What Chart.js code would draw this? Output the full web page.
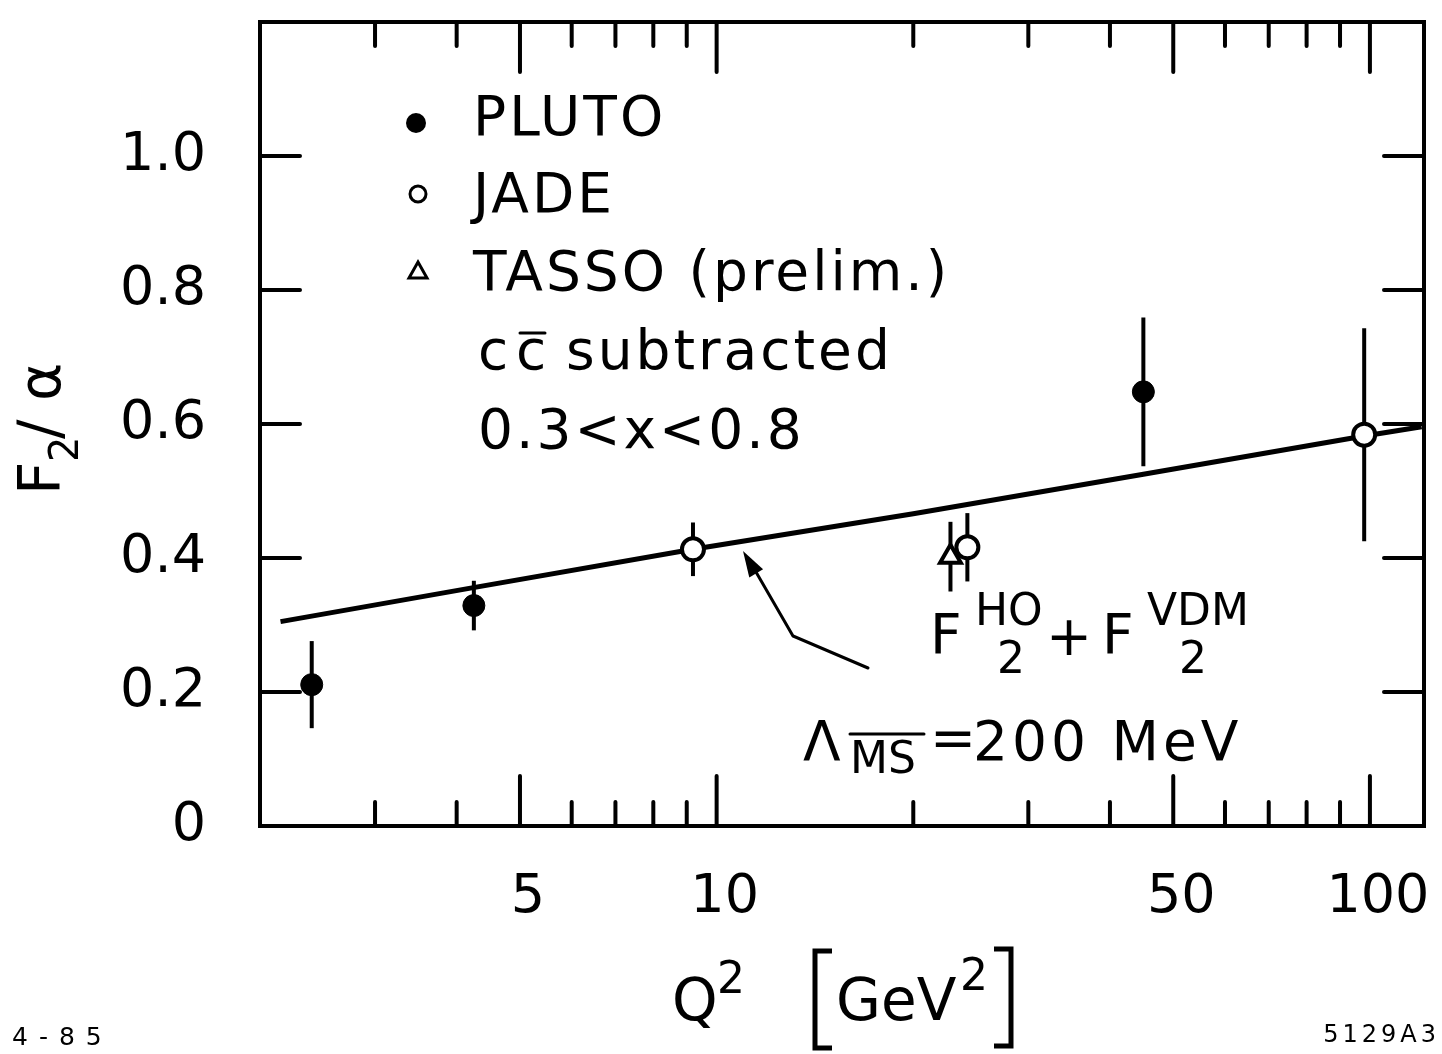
<!DOCTYPE html>
<html>
<head>
<meta charset="utf-8">
<script src="https://cdn.jsdelivr.net/npm/chart.js@4.4.1/dist/chart.umd.min.js"></script>
<style>
  html, body { margin: 0; padding: 0; background: #fff; }
  #wrap { width: 1442px; height: 1054px; }
</style>
</head>
<body>
<div id="wrap"><canvas id="f2Chart" width="1442" height="1054"></canvas></div>
<script>
// photon structure function F2/alpha vs Q^2, 0.3 < x < 0.8
var plutoQ2  = [2.4, 4.25, 45];
var plutoF2  = [0.211, 0.329, 0.648];
var plutoErr = [0.065, 0.037, 0.111];

var jadeQ2  = [9.2, 24.2, 98];
var jadeF2  = [0.413, 0.416, 0.584];
var jadeErr = [0.04, 0.051, 0.159];

var tassoQ2  = [22.8];
var tassoF2  = [0.402];
var tassoErr = [0.052];

// F2(HO) + F2(VDM), Lambda_MSbar = 200 MeV
var curveQ2 = [2.15, 4.2, 9.2, 20, 45, 98, 120];
var curveF2 = [0.305, 0.355, 0.413, 0.466, 0.525, 0.582, 0.596];

var xTickValues = [3, 4, 5, 6, 7, 8, 9, 10, 20, 30, 40, 50, 60, 70, 80, 90, 100];
var xLabelValues = [5, 10, 50, 100];
var yTickValues = [0, 0.2, 0.4, 0.6, 0.8, 1.0, 1.2];

var FONT = '"DejaVu Sans", sans-serif';

function pts(xs, ys) {
  return xs.map(function(x, i) { return { x: x, y: ys[i] }; });
}

// error bars (drawn under the markers)
var errorBars = {
  id: 'errorBars',
  beforeDatasetsDraw: function(chart) {
    var ctx = chart.ctx, xs = chart.scales.x, ys = chart.scales.y;
    ctx.save();
    ctx.strokeStyle = '#000';
    ctx.lineWidth = 4;
    chart.data.datasets.forEach(function(ds) {
      if (!ds.errors) return;
      ds.data.forEach(function(p, i) {
        var px = xs.getPixelForValue(p.x);
        ctx.beginPath();
        ctx.moveTo(px, ys.getPixelForValue(p.y - ds.errors[i]));
        ctx.lineTo(px, ys.getPixelForValue(p.y + ds.errors[i]));
        ctx.stroke();
      });
    });
    ctx.restore();
  }
};

// frame, inward ticks and all the lettering
var decorations = {
  id: 'decorations',
  afterDraw: function(chart) {
    var ctx = chart.ctx, a = chart.chartArea;
    var xs = chart.scales.x, ys = chart.scales.y;
    ctx.save();
    ctx.strokeStyle = '#000';
    ctx.fillStyle = '#000';
    ctx.lineCap = 'round';

    // frame
    ctx.lineWidth = 4;
    ctx.strokeRect(a.left, a.top, a.right - a.left, a.bottom - a.top);

    // x ticks, top and bottom
    ctx.lineWidth = 4;
    xTickValues.forEach(function(v) {
      var px = xs.getPixelForValue(v);
      var len = xLabelValues.indexOf(v) >= 0 ? 50 : 24;
      ctx.beginPath();
      ctx.moveTo(px, a.bottom); ctx.lineTo(px, a.bottom - len);
      ctx.moveTo(px, a.top); ctx.lineTo(px, a.top + len);
      ctx.stroke();
    });
    // y ticks, left and right
    yTickValues.forEach(function(v) {
      if (v <= 0 || v >= 1.2) return;
      var py = ys.getPixelForValue(v);
      ctx.beginPath();
      ctx.moveTo(a.left, py); ctx.lineTo(a.left + 40, py);
      ctx.moveTo(a.right, py); ctx.lineTo(a.right - 40, py);
      ctx.stroke();
    });

    ctx.textBaseline = 'alphabetic';
    ctx.textAlign = 'left';

    // legend
    ctx.beginPath(); ctx.arc(416, 123, 10, 0, Math.PI * 2); ctx.fill();
    ctx.lineWidth = 3;
    ctx.beginPath(); ctx.arc(418, 194, 8, 0, Math.PI * 2); ctx.stroke();
    ctx.beginPath();
    ctx.moveTo(418, 262); ctx.lineTo(427, 278); ctx.lineTo(409, 278); ctx.closePath();
    ctx.stroke();

    ctx.font = '55px ' + FONT;
    ctx.letterSpacing = '3px';
    ctx.fillText('PLUTO', 473, 135);
    ctx.fillText('JADE', 473, 212);
    ctx.fillText('TASSO (prelim.)', 473, 290);
    ctx.fillText('c', 478, 369);
    ctx.fillText('c', 516, 369);
    ctx.fillText('subtracted', 566, 369);
    ctx.lineWidth = 3;
    ctx.beginPath(); ctx.moveTo(520, 333); ctx.lineTo(545, 333); ctx.stroke();
    ctx.fillText('0.3<x<0.8', 478, 448);

    // curve annotation
    ctx.letterSpacing = '0px';
    ctx.font = '55px ' + FONT;
    ctx.fillText('F', 930, 653);
    ctx.fillText('+', 1046, 655);
    ctx.fillText('F', 1102, 653);
    ctx.font = '44px ' + FONT;
    ctx.fillText('HO', 975, 625);
    ctx.fillText('2', 997, 673);
    ctx.fillText('VDM', 1147, 625);
    ctx.fillText('2', 1179, 673);

    ctx.font = '55px ' + FONT;
    ctx.fillText('\u039B', 803, 760);
    ctx.font = '44px ' + FONT;
    ctx.fillText('MS', 850, 773);
    ctx.lineWidth = 3;
    ctx.beginPath(); ctx.moveTo(850, 734); ctx.lineTo(924, 734); ctx.stroke();
    ctx.font = '55px ' + FONT;
    ctx.fillText('=', 930, 757);
    ctx.letterSpacing = '4px';
    ctx.fillText('200 MeV', 973, 760);
    ctx.letterSpacing = '0px';

    // arrow to the curve
    ctx.lineWidth = 3;
    ctx.beginPath();
    ctx.moveTo(868, 668); ctx.lineTo(793, 636); ctx.lineTo(756, 572);
    ctx.stroke();
    var tx = 743, ty = 551, dx = -0.507, dy = -0.862;
    ctx.beginPath();
    ctx.moveTo(tx, ty);
    ctx.lineTo(tx - dx * 26 - dy * 8, ty - dy * 26 + dx * 8);
    ctx.lineTo(tx - dx * 26 + dy * 8, ty - dy * 26 - dx * 8);
    ctx.closePath();
    ctx.fill();

    // y axis title F2/alpha
    ctx.save();
    ctx.translate(60, 495);
    ctx.rotate(-Math.PI / 2);
    ctx.font = '58px ' + FONT;
    ctx.fillText('F', 0, 0);
    ctx.font = '40px ' + FONT;
    ctx.fillText('2', 33, 18);
    ctx.font = '58px ' + FONT;
    ctx.fillText('/', 56, 0);
    ctx.fillText('\u03B1', 94, 0);
    ctx.restore();

    // x axis title Q^2 [GeV^2]
    ctx.font = '58px ' + FONT;
    ctx.fillText('Q', 672, 1020);
    ctx.fillText('GeV', 836, 1020);
    ctx.font = '44px ' + FONT;
    ctx.fillText('2', 717, 993);
    ctx.fillText('2', 960, 990);
    ctx.lineWidth = 5;
    ctx.lineCap = 'butt';
    ctx.beginPath();
    ctx.moveTo(832, 951); ctx.lineTo(815, 951); ctx.lineTo(815, 1048); ctx.lineTo(832, 1048);
    ctx.moveTo(994, 949); ctx.lineTo(1011, 949); ctx.lineTo(1011, 1046); ctx.lineTo(994, 1046);
    ctx.stroke();

    // plate numbers
    ctx.font = '25px ' + FONT;
    ctx.letterSpacing = '11px';
    ctx.fillText('4-85', 12, 1045);
    ctx.font = '24px ' + FONT;
    ctx.letterSpacing = '4px';
    ctx.textAlign = 'right';
    ctx.fillText('5129A3', 1440, 1042);
    ctx.restore();
  }
};

var ctx = document.getElementById('f2Chart').getContext('2d');

var f2Chart = new Chart(ctx, {
  type: 'scatter',
  data: {
    datasets: [
      {
        label: 'F2HO + F2VDM',
        type: 'line',
        data: pts(curveQ2, curveF2),
        borderColor: '#000',
        borderWidth: 5,
        pointRadius: 0,
        tension: 0,
        order: 3
      },
      {
        label: 'PLUTO',
        data: pts(plutoQ2, plutoF2),
        errors: plutoErr,
        pointStyle: 'circle',
        pointRadius: 11,
        backgroundColor: '#000',
        borderColor: '#000',
        borderWidth: 1,
        order: 1
      },
      {
        label: 'JADE',
        data: pts(jadeQ2, jadeF2),
        errors: jadeErr,
        pointStyle: 'circle',
        pointRadius: 11,
        backgroundColor: '#fff',
        borderColor: '#000',
        borderWidth: 4,
        order: 1
      },
      {
        label: 'TASSO (prelim.)',
        data: pts(tassoQ2, tassoF2),
        errors: tassoErr,
        pointStyle: 'triangle',
        pointRadius: 12,
        backgroundColor: '#fff',
        borderColor: '#000',
        borderWidth: 4,
        order: 2
      }
    ]
  },
  options: {
    responsive: false,
    animation: false,
    layout: { padding: { top: 22, right: 18, left: 0, bottom: 0 } },
    plugins: {
      legend: { display: false },
      tooltip: { enabled: false }
    },
    scales: {
      x: {
        type: 'logarithmic',
        min: 2,
        max: 121,
        grid: { display: false },
        border: { display: false },
        afterFit: function(scale) {
          scale.height = 228;
          scale.paddingLeft = 0;
          scale.paddingRight = 0;
        },
        afterBuildTicks: function(scale) {
          scale.ticks = xTickValues.map(function(v) { return { value: v }; });
        },
        ticks: {
          autoSkip: false,
          maxRotation: 0,
          padding: 32,
          labelOffset: 8,
          color: '#000',
          font: { family: FONT, size: 54 },
          callback: function(v) { return xLabelValues.indexOf(v) >= 0 ? String(v) : ''; }
        }
      },
      y: {
        type: 'linear',
        min: 0,
        max: 1.2,
        grid: { display: false },
        border: { display: false },
        afterFit: function(scale) {
          scale.width = 260;
          scale.paddingTop = 0;
          scale.paddingBottom = 0;
        },
        afterBuildTicks: function(scale) {
          scale.ticks = yTickValues.map(function(v) { return { value: v }; });
        },
        ticks: {
          padding: 46,
          color: '#000',
          font: { family: FONT, size: 54 },
          callback: function(v) {
            if (v === 0) return '0';
            return v < 1.1 ? v.toFixed(1) : '';
          }
        }
      }
    }
  },
  plugins: [errorBars, decorations]
});
</script>
</body>
</html>
